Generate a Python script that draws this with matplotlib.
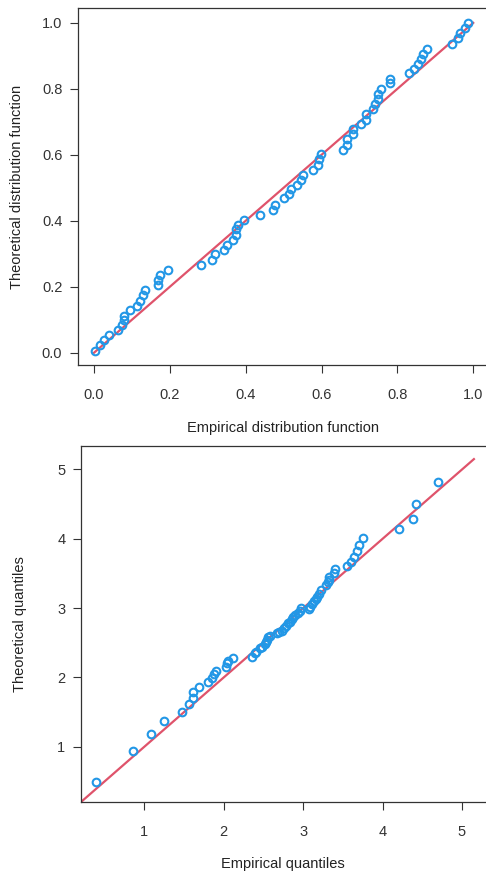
import matplotlib
matplotlib.use("Agg")
import matplotlib.pyplot as plt

plt.rcParams['font.family'] = ['Liberation Sans', 'DejaVu Sans']

# ---- P-P plot data ----
pp_empirical = [0.003, 0.016, 0.027, 0.041, 0.063, 0.073, 0.080, 0.080, 0.094, 0.113,
                0.122, 0.129, 0.134, 0.169, 0.169, 0.175, 0.196, 0.283, 0.310, 0.318,
                0.343, 0.351, 0.366, 0.375, 0.375, 0.380, 0.396, 0.438, 0.471, 0.477,
                0.501, 0.515, 0.519, 0.535, 0.546, 0.552, 0.577, 0.590, 0.594, 0.599,
                0.656, 0.667, 0.668, 0.684, 0.684, 0.703, 0.716, 0.716, 0.737, 0.742,
                0.750, 0.750, 0.758, 0.780, 0.780, 0.831, 0.843, 0.855, 0.862, 0.868,
                0.877, 0.943, 0.961, 0.965, 0.978, 0.987]
pp_theoretical = [0.006, 0.023, 0.039, 0.054, 0.069, 0.084, 0.099, 0.112, 0.130, 0.143,
                  0.158, 0.175, 0.191, 0.204, 0.221, 0.236, 0.250, 0.267, 0.282, 0.298,
                  0.312, 0.327, 0.343, 0.358, 0.375, 0.388, 0.403, 0.419, 0.434, 0.449,
                  0.469, 0.482, 0.497, 0.510, 0.525, 0.540, 0.555, 0.570, 0.588, 0.603,
                  0.616, 0.631, 0.647, 0.664, 0.679, 0.692, 0.707, 0.725, 0.738, 0.754,
                  0.768, 0.783, 0.799, 0.817, 0.831, 0.847, 0.861, 0.875, 0.890, 0.907,
                  0.922, 0.937, 0.954, 0.968, 0.983, 0.999]
pp_line = [0.0, 1.0]
pp_xticks = [0.0, 0.2, 0.4, 0.6, 0.8, 1.0]
pp_yticks = [0.0, 0.2, 0.4, 0.6, 0.8, 1.0]

# ---- Q-Q plot data ----
qq_empirical = [0.39, 0.853, 1.079, 1.247, 1.47, 1.566, 1.608, 1.616, 1.69, 1.805,
                1.847, 1.88, 1.90, 2.024, 2.036, 2.057, 2.12, 2.35, 2.39, 2.41,
                2.456, 2.477, 2.52, 2.53, 2.54, 2.56, 2.58, 2.67, 2.70, 2.73,
                2.76, 2.78, 2.81, 2.83, 2.855, 2.875, 2.90, 2.94, 2.96, 2.97,
                3.07, 3.086, 3.107, 3.136, 3.16, 3.17, 3.20, 3.23, 3.29, 3.31,
                3.32, 3.33, 3.39, 3.40, 3.555, 3.60, 3.64, 3.68, 3.703, 3.757,
                4.21, 4.38, 4.42, 4.70]
qq_theoretical = [0.495, 0.94, 1.19, 1.37, 1.505, 1.616, 1.785, 1.707, 1.866, 1.93,
                  1.987, 2.05, 2.097, 2.155, 2.203, 2.237, 2.275, 2.30, 2.35, 2.37,
                  2.42, 2.44, 2.48, 2.51, 2.54, 2.58, 2.60, 2.635, 2.65, 2.67,
                  2.71, 2.74, 2.78, 2.80, 2.84, 2.87, 2.90, 2.93, 2.96, 3.00,
                  2.99, 3.02, 3.06, 3.10, 3.13, 3.165, 3.21, 3.26, 3.33, 3.37,
                  3.405, 3.45, 3.50, 3.56, 3.607, 3.67, 3.74, 3.82, 3.91, 4.016,
                  4.137, 4.29, 4.50, 4.815]
qq_line = [0.0, 5.15]
qq_xticks = [1, 2, 3, 4, 5]
qq_yticks = [1, 2, 3, 4, 5]

BLUE = '#2297E6'
RED = '#DF536B'
DARK = '#333333'
FS = 10.5
RIGHT = 494  # frame continues past the right edge of the image

fig = plt.figure(figsize=(4.86, 8.75), dpi=100)

# pixel scales derived from the reference: top x 379.3 px/unit, bottom x 79.4 px/unit
ax1 = fig.add_axes([78/486, 1 - 365/875, (RIGHT-78)/486, (365-8)/875])
ax2 = fig.add_axes([81/486, 1 - 801.7/875, (RIGHT-81)/486, (801.7-446)/875])


def style(ax):
    for s in ax.spines.values():
        s.set_color(DARK)
        s.set_linewidth(0.9)
    ax.tick_params(axis='both', direction='out', length=5.8, width=0.8,
                   color=DARK, labelcolor=DARK, labelsize=FS)
    ax.tick_params(axis='x', pad=11)
    ax.tick_params(axis='y', pad=5.5)


# P-P plot
ax1.plot(pp_line, pp_line, color=RED, lw=1.6, zorder=2)
ax1.plot(pp_empirical, pp_theoretical, linestyle='none', marker='o', ms=5.5,
         mfc='none', mec=BLUE, mew=1.5, zorder=3)
ax1.set_xlim(-0.042, -0.042 + (RIGHT - 78) / 379.3)
ax1.set_ylim(-0.037, 1.045)
ax1.set_xticks(pp_xticks)
ax1.set_yticks(pp_yticks)
ax1.set_xticklabels([f"{v:.1f}" for v in pp_xticks])
ax1.set_yticklabels([f"{v:.1f}" for v in pp_yticks])
style(ax1)
ax1.set_xlabel("Empirical distribution function", fontsize=FS, color='#222222')
ax1.set_ylabel("Theoretical distribution function", fontsize=FS, color='#222222')
ax1.xaxis.set_label_coords((283 - 78) / (RIGHT - 78), -(428 - 365) / (365 - 8))
ax1.xaxis.label.set_verticalalignment('center')
ax1.yaxis.set_label_coords(-(78 - 17) / (RIGHT - 78), 0.5)
ax1.yaxis.label.set_verticalalignment('center')

# Q-Q plot
ax2.plot(qq_line, qq_line, color=RED, lw=1.6, zorder=2)
ax2.plot(qq_empirical, qq_theoretical, linestyle='none', marker='o', ms=5.5,
         mfc='none', mec=BLUE, mew=1.5, zorder=3)
ax2.set_xlim(0.2015, 0.2015 + (RIGHT - 81) / 79.4)
ax2.set_ylim(0.206, 5.339)
ax2.set_xticks(qq_xticks)
ax2.set_yticks(qq_yticks)
style(ax2)
ax2.set_xlabel("Empirical quantiles", fontsize=FS, color='#222222')
ax2.set_ylabel("Theoretical quantiles", fontsize=FS, color='#222222')
ax2.xaxis.set_label_coords((283 - 81) / (RIGHT - 81), -(864 - 801.7) / (801.7 - 446))
ax2.xaxis.label.set_verticalalignment('center')
ax2.yaxis.set_label_coords(-(81 - 20) / (RIGHT - 81), 0.5)
ax2.yaxis.label.set_verticalalignment('center')

fig.savefig("out.png", dpi=100)
